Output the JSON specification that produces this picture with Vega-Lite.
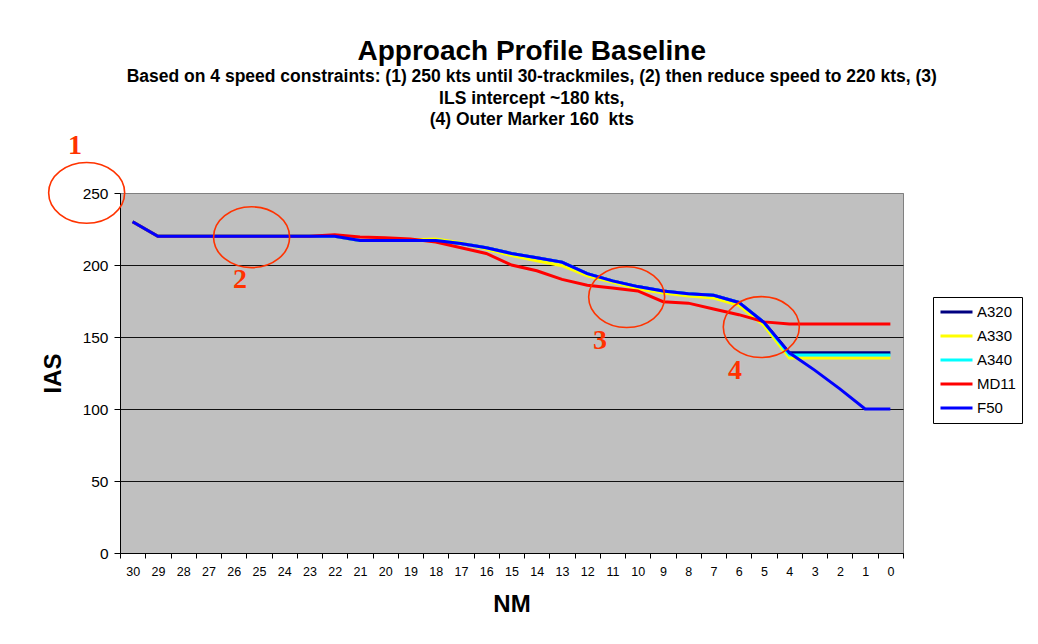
{
  "$schema": "https://vega.github.io/schema/vega-lite/v6.json",
  "width": 783,
  "height": 360,
  "autosize": {"type": "none"},
  "padding": {"left": 120, "top": 193, "right": 135, "bottom": 91},
  "background": "white",
  "config": {
    "font": "Liberation Sans",
    "view": {"fill": "#C0C0C0", "stroke": "#808080", "strokeWidth": 1}
  },
  "title": {
    "text": "Approach Profile Baseline",
    "subtitle": [
      "Based on 4 speed constraints: (1) 250 kts until 30-trackmiles, (2) then reduce speed to 220 kts, (3)",
      "ILS intercept ~180 kts,",
      "(4) Outer Marker 160\u00a0 kts"
    ],
    "font": "Liberation Sans",
    "fontSize": 28,
    "fontWeight": "bold",
    "color": "black",
    "subtitleFont": "Liberation Sans",
    "subtitleFontSize": 17.5,
    "subtitleFontWeight": "bold",
    "subtitleColor": "black",
    "subtitleLineHeight": 21.5,
    "subtitlePadding": 2,
    "anchor": "middle",
    "frame": "bounds",
    "offset": 3
  },
  "datasets": {
    "speeds": [
      {"aircraft": "A320", "NM": 30, "IAS": 230}, {"aircraft": "A320", "NM": 29, "IAS": 220}, {"aircraft": "A320", "NM": 28, "IAS": 220}, {"aircraft": "A320", "NM": 27, "IAS": 220}, {"aircraft": "A320", "NM": 26, "IAS": 220}, {"aircraft": "A320", "NM": 25, "IAS": 220}, {"aircraft": "A320", "NM": 24, "IAS": 220}, {"aircraft": "A320", "NM": 23, "IAS": 220}, {"aircraft": "A320", "NM": 22, "IAS": 220}, {"aircraft": "A320", "NM": 21, "IAS": 217}, {"aircraft": "A320", "NM": 20, "IAS": 217}, {"aircraft": "A320", "NM": 19, "IAS": 217}, {"aircraft": "A320", "NM": 18, "IAS": 217}, {"aircraft": "A320", "NM": 17, "IAS": 215}, {"aircraft": "A320", "NM": 16, "IAS": 212}, {"aircraft": "A320", "NM": 15, "IAS": 208}, {"aircraft": "A320", "NM": 14, "IAS": 205}, {"aircraft": "A320", "NM": 13, "IAS": 202}, {"aircraft": "A320", "NM": 12, "IAS": 194}, {"aircraft": "A320", "NM": 11, "IAS": 189}, {"aircraft": "A320", "NM": 10, "IAS": 185}, {"aircraft": "A320", "NM": 9, "IAS": 182}, {"aircraft": "A320", "NM": 8, "IAS": 180}, {"aircraft": "A320", "NM": 7, "IAS": 179}, {"aircraft": "A320", "NM": 6, "IAS": 174}, {"aircraft": "A320", "NM": 5, "IAS": 160}, {"aircraft": "A320", "NM": 4, "IAS": 139}, {"aircraft": "A320", "NM": 3, "IAS": 139}, {"aircraft": "A320", "NM": 2, "IAS": 139}, {"aircraft": "A320", "NM": 1, "IAS": 139}, {"aircraft": "A320", "NM": 0, "IAS": 139},
      {"aircraft": "A330", "NM": 30, "IAS": 230}, {"aircraft": "A330", "NM": 29, "IAS": 220}, {"aircraft": "A330", "NM": 28, "IAS": 220}, {"aircraft": "A330", "NM": 27, "IAS": 220}, {"aircraft": "A330", "NM": 26, "IAS": 220}, {"aircraft": "A330", "NM": 25, "IAS": 220}, {"aircraft": "A330", "NM": 24, "IAS": 220}, {"aircraft": "A330", "NM": 23, "IAS": 220}, {"aircraft": "A330", "NM": 22, "IAS": 220}, {"aircraft": "A330", "NM": 21, "IAS": 217}, {"aircraft": "A330", "NM": 20, "IAS": 217}, {"aircraft": "A330", "NM": 19, "IAS": 217.5}, {"aircraft": "A330", "NM": 18, "IAS": 218}, {"aircraft": "A330", "NM": 17, "IAS": 215.5}, {"aircraft": "A330", "NM": 16, "IAS": 211}, {"aircraft": "A330", "NM": 15, "IAS": 206.5}, {"aircraft": "A330", "NM": 14, "IAS": 203}, {"aircraft": "A330", "NM": 13, "IAS": 199.5}, {"aircraft": "A330", "NM": 12, "IAS": 192.5}, {"aircraft": "A330", "NM": 11, "IAS": 188}, {"aircraft": "A330", "NM": 10, "IAS": 183.5}, {"aircraft": "A330", "NM": 9, "IAS": 180.5}, {"aircraft": "A330", "NM": 8, "IAS": 178.5}, {"aircraft": "A330", "NM": 7, "IAS": 177}, {"aircraft": "A330", "NM": 6, "IAS": 172}, {"aircraft": "A330", "NM": 5, "IAS": 158}, {"aircraft": "A330", "NM": 4, "IAS": 135.5}, {"aircraft": "A330", "NM": 3, "IAS": 135.5}, {"aircraft": "A330", "NM": 2, "IAS": 135.5}, {"aircraft": "A330", "NM": 1, "IAS": 135.5}, {"aircraft": "A330", "NM": 0, "IAS": 135.5},
      {"aircraft": "A340", "NM": 30, "IAS": 230}, {"aircraft": "A340", "NM": 29, "IAS": 220}, {"aircraft": "A340", "NM": 28, "IAS": 220}, {"aircraft": "A340", "NM": 27, "IAS": 220}, {"aircraft": "A340", "NM": 26, "IAS": 220}, {"aircraft": "A340", "NM": 25, "IAS": 220}, {"aircraft": "A340", "NM": 24, "IAS": 220}, {"aircraft": "A340", "NM": 23, "IAS": 220}, {"aircraft": "A340", "NM": 22, "IAS": 220}, {"aircraft": "A340", "NM": 21, "IAS": 217}, {"aircraft": "A340", "NM": 20, "IAS": 217}, {"aircraft": "A340", "NM": 19, "IAS": 217}, {"aircraft": "A340", "NM": 18, "IAS": 217}, {"aircraft": "A340", "NM": 17, "IAS": 215}, {"aircraft": "A340", "NM": 16, "IAS": 212}, {"aircraft": "A340", "NM": 15, "IAS": 208}, {"aircraft": "A340", "NM": 14, "IAS": 205}, {"aircraft": "A340", "NM": 13, "IAS": 202}, {"aircraft": "A340", "NM": 12, "IAS": 194}, {"aircraft": "A340", "NM": 11, "IAS": 189}, {"aircraft": "A340", "NM": 10, "IAS": 185}, {"aircraft": "A340", "NM": 9, "IAS": 182}, {"aircraft": "A340", "NM": 8, "IAS": 180}, {"aircraft": "A340", "NM": 7, "IAS": 179}, {"aircraft": "A340", "NM": 6, "IAS": 174}, {"aircraft": "A340", "NM": 5, "IAS": 160}, {"aircraft": "A340", "NM": 4, "IAS": 137.5}, {"aircraft": "A340", "NM": 3, "IAS": 137.5}, {"aircraft": "A340", "NM": 2, "IAS": 137.5}, {"aircraft": "A340", "NM": 1, "IAS": 137.5}, {"aircraft": "A340", "NM": 0, "IAS": 137.5},
      {"aircraft": "MD11", "NM": 30, "IAS": 230}, {"aircraft": "MD11", "NM": 29, "IAS": 220}, {"aircraft": "MD11", "NM": 28, "IAS": 220}, {"aircraft": "MD11", "NM": 27, "IAS": 220}, {"aircraft": "MD11", "NM": 26, "IAS": 220}, {"aircraft": "MD11", "NM": 25, "IAS": 220}, {"aircraft": "MD11", "NM": 24, "IAS": 220}, {"aircraft": "MD11", "NM": 23, "IAS": 220}, {"aircraft": "MD11", "NM": 22, "IAS": 221}, {"aircraft": "MD11", "NM": 21, "IAS": 219.5}, {"aircraft": "MD11", "NM": 20, "IAS": 219}, {"aircraft": "MD11", "NM": 19, "IAS": 218}, {"aircraft": "MD11", "NM": 18, "IAS": 216}, {"aircraft": "MD11", "NM": 17, "IAS": 212}, {"aircraft": "MD11", "NM": 16, "IAS": 208}, {"aircraft": "MD11", "NM": 15, "IAS": 200}, {"aircraft": "MD11", "NM": 14, "IAS": 196}, {"aircraft": "MD11", "NM": 13, "IAS": 190}, {"aircraft": "MD11", "NM": 12, "IAS": 186}, {"aircraft": "MD11", "NM": 11, "IAS": 184}, {"aircraft": "MD11", "NM": 10, "IAS": 182}, {"aircraft": "MD11", "NM": 9, "IAS": 174.5}, {"aircraft": "MD11", "NM": 8, "IAS": 173.5}, {"aircraft": "MD11", "NM": 7, "IAS": 169.5}, {"aircraft": "MD11", "NM": 6, "IAS": 165.5}, {"aircraft": "MD11", "NM": 5, "IAS": 160.5}, {"aircraft": "MD11", "NM": 4, "IAS": 159}, {"aircraft": "MD11", "NM": 3, "IAS": 159}, {"aircraft": "MD11", "NM": 2, "IAS": 159}, {"aircraft": "MD11", "NM": 1, "IAS": 159}, {"aircraft": "MD11", "NM": 0, "IAS": 159},
      {"aircraft": "F50", "NM": 30, "IAS": 230}, {"aircraft": "F50", "NM": 29, "IAS": 220}, {"aircraft": "F50", "NM": 28, "IAS": 220}, {"aircraft": "F50", "NM": 27, "IAS": 220}, {"aircraft": "F50", "NM": 26, "IAS": 220}, {"aircraft": "F50", "NM": 25, "IAS": 220}, {"aircraft": "F50", "NM": 24, "IAS": 220}, {"aircraft": "F50", "NM": 23, "IAS": 220}, {"aircraft": "F50", "NM": 22, "IAS": 220}, {"aircraft": "F50", "NM": 21, "IAS": 217}, {"aircraft": "F50", "NM": 20, "IAS": 217}, {"aircraft": "F50", "NM": 19, "IAS": 217}, {"aircraft": "F50", "NM": 18, "IAS": 217}, {"aircraft": "F50", "NM": 17, "IAS": 215}, {"aircraft": "F50", "NM": 16, "IAS": 212}, {"aircraft": "F50", "NM": 15, "IAS": 208}, {"aircraft": "F50", "NM": 14, "IAS": 205}, {"aircraft": "F50", "NM": 13, "IAS": 202}, {"aircraft": "F50", "NM": 12, "IAS": 194}, {"aircraft": "F50", "NM": 11, "IAS": 189}, {"aircraft": "F50", "NM": 10, "IAS": 185}, {"aircraft": "F50", "NM": 9, "IAS": 182}, {"aircraft": "F50", "NM": 8, "IAS": 180}, {"aircraft": "F50", "NM": 7, "IAS": 179}, {"aircraft": "F50", "NM": 6, "IAS": 174}, {"aircraft": "F50", "NM": 5, "IAS": 160}, {"aircraft": "F50", "NM": 4, "IAS": 139}, {"aircraft": "F50", "NM": 3, "IAS": 127}, {"aircraft": "F50", "NM": 2, "IAS": 114}, {"aircraft": "F50", "NM": 1, "IAS": 100}, {"aircraft": "F50", "NM": 0, "IAS": 100}
    ],
    "circles": [
      {"pos": 31.82, "IAS": 250.1},
      {"pos": 25.29, "IAS": 219.3},
      {"pos": 10.44, "IAS": 177.7},
      {"pos": 5.11, "IAS": 156.9}
    ],
    "marks": [
      {"pos": 32.28, "IAS": 282.8, "label": "1"},
      {"pos": 25.75, "IAS": 189.3, "label": "2"},
      {"pos": 11.5, "IAS": 147.0, "label": "3"},
      {"pos": 6.15, "IAS": 126.2, "label": "4"}
    ]
  },
  "layer": [
    {
      "data": {"name": "speeds"},
      "mark": {"type": "line", "strokeWidth": 3, "clip": false},
      "encoding": {
        "x": {
          "field": "NM",
          "type": "ordinal",
          "sort": "descending",
          "bandPosition": 0.5,
          "scale": {"type": "band", "paddingInner": 0, "paddingOuter": 0},
          "axis": {
            "title": "NM",
            "titleFont": "Liberation Sans",
            "titleFontSize": 24,
            "titleFontWeight": "bold",
            "titleColor": "black",
            "titleY": 51,
            "titleBaseline": "middle",
            "labelAngle": 0,
            "labelFont": "Liberation Sans",
            "labelFontSize": 12.5,
            "labelColor": "black",
            "labelPadding": 7,
            "tickBand": "extent",
            "tickSize": 5,
            "tickColor": "black",
            "domainColor": "black",
            "grid": false
          }
        },
        "y": {
          "field": "IAS",
          "type": "quantitative",
          "scale": {"domain": [0, 250], "nice": false, "zero": true},
          "axis": {
            "title": "IAS",
            "values": [0, 50, 100, 150, 200, 250],
            "titleFont": "Liberation Sans",
            "titleFontSize": 24,
            "titleFontWeight": "bold",
            "titleColor": "black",
            "titleAngle": 270,
            "titleX": -67,
            "titleY": 180,
            "titleAlign": "center",
            "titleBaseline": "middle",
            "labelFont": "Liberation Sans",
            "labelFontSize": 15.5,
            "labelColor": "black",
            "labelPadding": 6,
            "tickSize": 6,
            "tickColor": "black",
            "domainColor": "black",
            "grid": true,
            "gridColor": {"condition": {"test": "datum.value === 250", "value": "#808080"}, "value": "#111111"},
            "gridWidth": 1
          }
        },
        "color": {
          "field": "aircraft",
          "type": "nominal",
          "sort": ["A320", "A330", "A340", "MD11", "F50"],
          "scale": {
            "domain": ["A320", "A330", "A340", "MD11", "F50"],
            "range": ["#000080", "#FFFF00", "#00FFFF", "#FF0000", "#0000FF"]
          },
          "legend": {
            "title": null,
            "orient": "none",
            "legendX": 813,
            "legendY": 104,
            "strokeColor": "black",
            "fillColor": "white",
            "padding": 6,
            "symbolType": "stroke",
            "symbolSize": 1024,
            "symbolStrokeWidth": 3,
            "clipHeight": 18,
            "rowPadding": 6,
            "labelFont": "Liberation Sans",
            "labelFontSize": 15,
            "labelColor": "black",
            "labelOffset": 3
          }
        }
      }
    },
    {
      "data": {"name": "circles"},
      "mark": {
        "type": "point",
        "shape": "M-1,0A1,0.8,0,1,1,1,0A1,0.8,0,1,1,-1,0Z",
        "size": 5776,
        "filled": false,
        "color": "#FF3300",
        "strokeWidth": 1.6,
        "opacity": 1,
        "clip": false
      },
      "encoding": {
        "x": {"field": "pos", "type": "quantitative", "scale": {"domain": [-0.5, 30.5], "reverse": true, "nice": false, "zero": false}, "axis": null},
        "y": {"field": "IAS", "type": "quantitative", "scale": {"domain": [0, 250], "nice": false}}
      }
    },
    {
      "data": {"name": "marks"},
      "mark": {
        "type": "text",
        "font": "Liberation Serif",
        "fontSize": 28,
        "fontWeight": "bold",
        "color": "#FF3300",
        "align": "center",
        "baseline": "middle",
        "clip": false
      },
      "encoding": {
        "x": {"field": "pos", "type": "quantitative", "scale": {"domain": [-0.5, 30.5], "reverse": true, "nice": false, "zero": false}, "axis": null},
        "y": {"field": "IAS", "type": "quantitative", "scale": {"domain": [0, 250], "nice": false}},
        "text": {"field": "label"}
      }
    }
  ],
  "resolve": {"scale": {"x": "independent"}, "axis": {"x": "independent"}}
}
